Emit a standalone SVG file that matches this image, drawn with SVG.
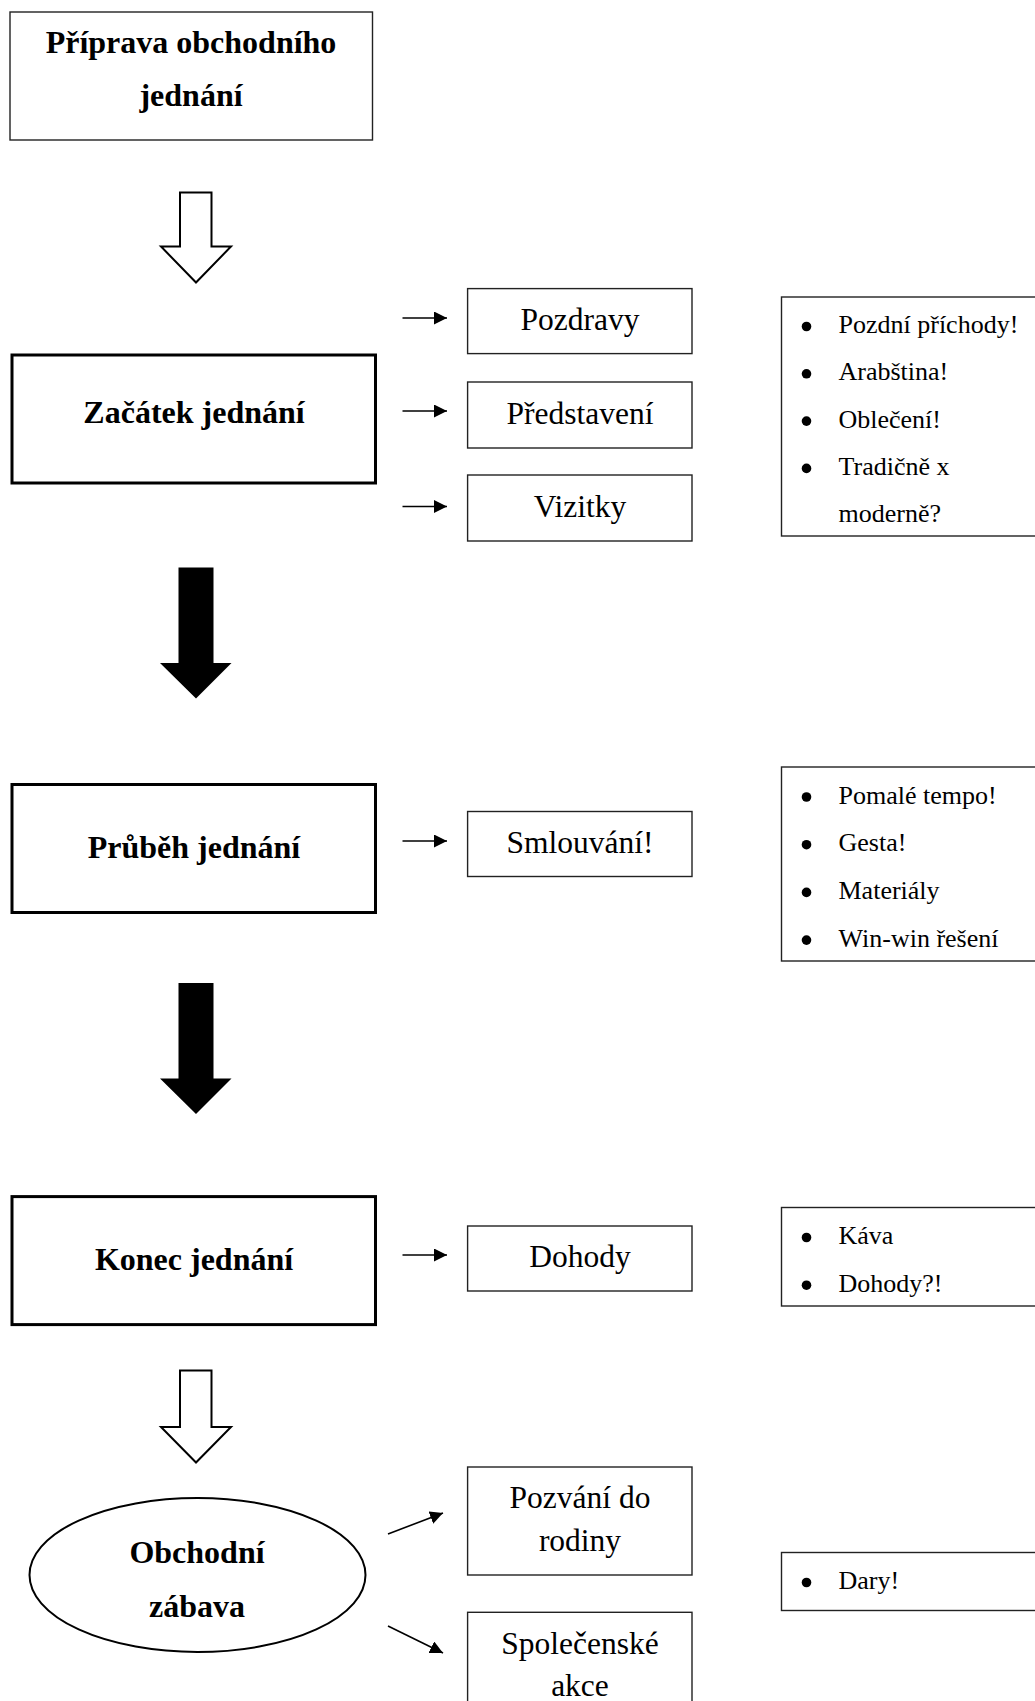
<svg xmlns="http://www.w3.org/2000/svg" width="1035" height="1701" viewBox="0 0 1035 1701">
<defs>
<style>
.bold{font-family:"Liberation Serif","Times New Roman",serif;font-weight:bold;font-size:32px;fill:#000;text-anchor:middle}
.lbl{font-family:"Liberation Serif","Times New Roman",serif;font-size:31.5px;fill:#000;text-anchor:middle}
.li{font-family:"Liberation Serif","Times New Roman",serif;font-size:26px;fill:#000}
.thin{fill:#fff;stroke:#222;stroke-width:1.4}
.thick{fill:#fff;stroke:#000;stroke-width:3}
.list{fill:#fff;stroke:#222;stroke-width:1.4}
.conn{stroke:#000;stroke-width:1.6;fill:none;marker-end:url(#ah)}
.hollow{fill:#fff;stroke:#000;stroke-width:2;stroke-linejoin:miter}
.solid{fill:#000;stroke:none}
</style>
<marker id="ah" markerUnits="userSpaceOnUse" markerWidth="14" markerHeight="14" refX="13" refY="6.5" orient="auto">
<path d="M0,0 L13,6.5 L0,13 z" fill="#000"/>
</marker>
</defs>
<rect width="1035" height="1701" fill="#fff"/>

<g id="connectors">
<polygon class="hollow" points="180,192.5 211.5,192.5 211.5,246.5 231,246.5 196,282.5 161,246.5 180,246.5"/>
<polygon class="solid" points="178.5,567.5 213.5,567.5 213.5,663 231.5,663 196,698.5 160,663 178.5,663"/>
<polygon class="solid" points="178.5,983 213.5,983 213.5,1078.5 231.5,1078.5 196,1114 160,1078.5 178.5,1078.5"/>
<polygon class="hollow" points="180,1370.5 211.5,1370.5 211.5,1427 231,1427 196,1462.5 161,1427 180,1427"/>
<line class="conn" x1="402.5" y1="318" x2="447" y2="318"/>
<line class="conn" x1="402.5" y1="411" x2="447" y2="411"/>
<line class="conn" x1="402.5" y1="506.5" x2="447" y2="506.5"/>
<line class="conn" x1="402.5" y1="841" x2="447" y2="841"/>
<line class="conn" x1="402.5" y1="1255" x2="447" y2="1255"/>
<line class="conn" x1="388" y1="1534" x2="443" y2="1513"/>
<line class="conn" x1="388" y1="1626" x2="443" y2="1653"/>
</g>

<g id="n-priprava">
<rect class="thin" x="10" y="12" width="362.5" height="128"/>
<text class="bold" x="191" y="52.5">Příprava obchodního</text>
<text class="bold" x="191" y="106">jednání</text>
</g>

<g id="n-zacatek">
<rect class="thick" x="12" y="355" width="363.5" height="128"/>
<text class="bold" x="194" y="423">Začátek jednání</text>
</g>
<g id="n-pozdravy">
<rect class="thin" x="467.6" y="288.6" width="224.4" height="65"/>
<text class="lbl" x="580" y="329.5">Pozdravy</text>
</g>
<g id="n-predstaveni">
<rect class="thin" x="467.6" y="382" width="224.4" height="66"/>
<text class="lbl" x="580" y="423.5">Představení</text>
</g>
<g id="n-vizitky">
<rect class="thin" x="467.6" y="475" width="224.4" height="66"/>
<text class="lbl" x="580" y="516.5">Vizitky</text>
</g>
<g id="n-list1">
<rect class="list" x="781.5" y="297" width="260" height="239"/>
<circle cx="806.5" cy="326.5" r="4.8"/>
<circle cx="806.5" cy="373.8" r="4.8"/>
<circle cx="806.5" cy="421.1" r="4.8"/>
<circle cx="806.5" cy="468.4" r="4.8"/>
<text class="li" x="838.5" y="333">Pozdní příchody!</text>
<text class="li" x="838.5" y="380.3">Arabština!</text>
<text class="li" x="838.5" y="427.6">Oblečení!</text>
<text class="li" x="838.5" y="474.9">Tradičně x</text>
<text class="li" x="838.5" y="521.5">moderně?</text>
</g>

<g id="n-prubeh">
<rect class="thick" x="12" y="784.5" width="363.5" height="128"/>
<text class="bold" x="194" y="858">Průběh jednání</text>
</g>
<g id="n-smlouvani">
<rect class="thin" x="467.6" y="811.5" width="224.4" height="65"/>
<text class="lbl" x="580" y="853">Smlouvání!</text>
</g>
<g id="n-list2">
<rect class="list" x="781.5" y="767" width="260" height="194"/>
<circle cx="806.5" cy="797" r="4.8"/>
<circle cx="806.5" cy="844.7" r="4.8"/>
<circle cx="806.5" cy="892.4" r="4.8"/>
<circle cx="806.5" cy="940.1" r="4.8"/>
<text class="li" x="838.5" y="803.5">Pomalé tempo!</text>
<text class="li" x="838.5" y="851.2">Gesta!</text>
<text class="li" x="838.5" y="898.9">Materiály</text>
<text class="li" x="838.5" y="946.6">Win-win řešení</text>
</g>

<g id="n-konec">
<rect class="thick" x="12" y="1196.6" width="363.5" height="128"/>
<text class="bold" x="194" y="1270">Konec jednání</text>
</g>
<g id="n-dohody">
<rect class="thin" x="467.6" y="1226" width="224.4" height="65"/>
<text class="lbl" x="580" y="1267">Dohody</text>
</g>
<g id="n-list3">
<rect class="list" x="781.5" y="1207.5" width="260" height="98.5"/>
<circle cx="806.5" cy="1237.5" r="4.8"/>
<circle cx="806.5" cy="1285.2" r="4.8"/>
<text class="li" x="838.5" y="1244">Káva</text>
<text class="li" x="838.5" y="1291.7">Dohody?!</text>
</g>

<g id="n-zabava">
<ellipse cx="197.5" cy="1575" rx="168" ry="77" fill="#fff" stroke="#000" stroke-width="2"/>
<text class="bold" x="197" y="1562.5">Obchodní</text>
<text class="bold" x="197" y="1617">zábava</text>
</g>
<g id="n-pozvani">
<rect class="thin" x="467.6" y="1467" width="224.4" height="108"/>
<text class="lbl" x="580" y="1508">Pozvání do</text>
<text class="lbl" x="580" y="1551">rodiny</text>
</g>
<g id="n-spolecenske">
<rect class="thin" x="467.6" y="1612.3" width="224.4" height="100"/>
<text class="lbl" x="580" y="1654">Společenské</text>
<text class="lbl" x="580" y="1696">akce</text>
</g>
<g id="n-list4">
<rect class="list" x="781.5" y="1552.5" width="260" height="58"/>
<circle cx="806.5" cy="1582.5" r="4.8"/>
<text class="li" x="838.5" y="1589">Dary!</text>
</g>
</svg>
